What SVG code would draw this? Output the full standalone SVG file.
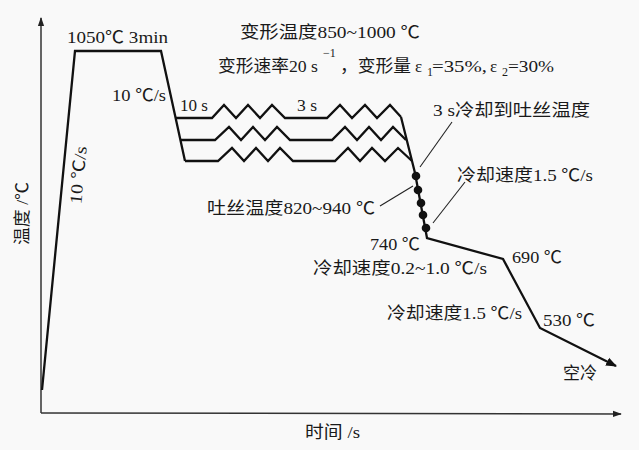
<svg xmlns="http://www.w3.org/2000/svg" width="639" height="450" viewBox="0 0 639 450">
<defs>
<style>
.t{font-family:"Liberation Serif","Noto Sans CJK SC",serif;font-size:17px;fill:#1a1a1a}
.s{font-size:12px}
.axis{stroke:#333;stroke-width:1.5;fill:none}
.curve{stroke:#111;stroke-width:2.3;fill:none;stroke-linejoin:miter}
.lead{stroke:#222;stroke-width:1.1;fill:none}
.dot{fill:#111}
</style>
<marker id="ah" viewBox="0 0 10 10" refX="9" refY="5" markerWidth="9" markerHeight="9" markerUnits="userSpaceOnUse" orient="auto">
<path d="M0,1.5 L10,5 L0,8.5 Z" fill="#222"/>
</marker>
<marker id="ah2" viewBox="0 0 10 10" refX="9" refY="5" markerWidth="11" markerHeight="11" markerUnits="userSpaceOnUse" orient="auto">
<path d="M0,1 L10,5 L0,9 Z" fill="#111"/>
</marker>
</defs>
<rect width="639" height="450" fill="#f9f9f9"/>
<g id="axes">
<path class="axis" d="M41,413 L41,18" marker-end="url(#ah)"/>
<path class="axis" d="M41,413 L621,414" marker-end="url(#ah)"/>
</g>
<g id="connectors">
<path class="curve" d="M42,390 L75,51 L161,51 L185,161"/>
<path class="curve" d="M176,118 L212,118 L224,105 L236,118 L248,105 L260,118 L272,105 L285,118 L327,118 L340,105 L352,118 L365,105 L377,118 L390,105 L401,117"/>
<path class="curve" d="M181,140 L215,140 L229,127 L241,140 L253,127 L265,140 L277,127 L290,140 L332,140 L345,127 L357,140 L369,127 L381,140 L393,127 L406,140"/>
<path class="curve" d="M185,161 L218,161 L232,148 L244,161 L256,148 L268,161 L280,148 L293,161 L335,161 L348,148 L360,161 L372,148 L385,161 L398,148 L412,161"/>
<path class="curve" d="M401,117 L415,173 L427,238 L503,259 L540,328 L616,366" marker-end="url(#ah2)"/>
<path class="lead" d="M452,122 L420,167"/>
<path class="lead" d="M465,182 L433,223"/>
<path class="lead" d="M380,206 L413,186"/>
</g>
<g id="dots">
<circle class="dot" cx="416" cy="176" r="4.3"/>
<circle class="dot" cx="418" cy="190" r="4.3"/>
<circle class="dot" cx="421" cy="203" r="4.3"/>
<circle class="dot" cx="423" cy="215" r="4.3"/>
<circle class="dot" cx="426" cy="228" r="4.3"/>
</g>
<g id="labels">
<text class="t" x="67" y="43" textLength="101" lengthAdjust="spacingAndGlyphs">1050℃ 3min</text>
<text class="t" x="240" y="38" textLength="180" lengthAdjust="spacingAndGlyphs">变形温度850~1000 ℃</text>
<text class="t" x="218" y="72" textLength="100" lengthAdjust="spacingAndGlyphs">变形速率20 s</text>
<text class="t s" x="323" y="57">−1</text>
<text class="t" x="340" y="72" textLength="71" lengthAdjust="spacingAndGlyphs">，变形量</text>
<text class="t" x="415" y="72" font-size="18">ε</text>
<text class="t s" x="427" y="76">1</text>
<text class="t" x="432" y="72" textLength="55" lengthAdjust="spacingAndGlyphs">=35%,</text>
<text class="t" x="490" y="72" font-size="18">ε</text>
<text class="t s" x="502" y="76">2</text>
<text class="t" x="508" y="72" textLength="46" lengthAdjust="spacingAndGlyphs">=30%</text>
<text class="t" x="112" y="101" textLength="54" lengthAdjust="spacingAndGlyphs">10 ℃/s</text>
<text class="t" x="180" y="111" textLength="28" lengthAdjust="spacingAndGlyphs">10 s</text>
<text class="t" x="297" y="111" textLength="20" lengthAdjust="spacingAndGlyphs">3 s</text>
<text class="t" x="433" y="116" textLength="157" lengthAdjust="spacingAndGlyphs">3 s冷却到吐丝温度</text>
<text class="t" x="457" y="181" textLength="136" lengthAdjust="spacingAndGlyphs">冷却速度1.5 ℃/s</text>
<text class="t" x="207" y="214" textLength="168" lengthAdjust="spacingAndGlyphs">吐丝温度820~940 ℃</text>
<text class="t" x="370" y="250" textLength="50" lengthAdjust="spacingAndGlyphs">740 ℃</text>
<text class="t" x="313" y="274" textLength="174" lengthAdjust="spacingAndGlyphs">冷却速度0.2~1.0 ℃/s</text>
<text class="t" x="512" y="263" textLength="50" lengthAdjust="spacingAndGlyphs">690 ℃</text>
<text class="t" x="387" y="319" textLength="135" lengthAdjust="spacingAndGlyphs">冷却速度1.5 ℃/s</text>
<text class="t" x="543" y="326" textLength="52" lengthAdjust="spacingAndGlyphs">530 ℃</text>
<text class="t" x="563" y="379" textLength="34" lengthAdjust="spacingAndGlyphs">空冷</text>
<text class="t" x="305" y="438" textLength="55" lengthAdjust="spacingAndGlyphs">时间 /s</text>
<text class="t" transform="translate(22,213) rotate(-90)" x="-32" y="6" textLength="63" lengthAdjust="spacingAndGlyphs">温度 /℃</text>
<text class="t" transform="translate(78,175) rotate(-84.4)" x="-29" y="6" textLength="58" lengthAdjust="spacingAndGlyphs">10 ℃/s</text>
</g>
</svg>
